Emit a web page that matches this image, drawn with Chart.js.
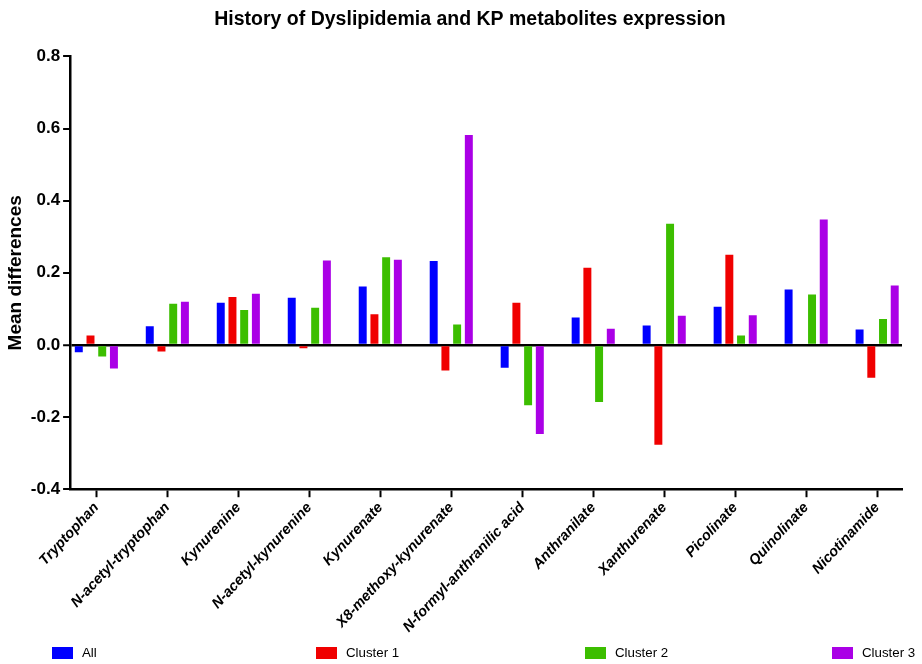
<!DOCTYPE html>
<html>
<head>
<meta charset="utf-8">
<script src="https://cdn.jsdelivr.net/npm/chart.js@4/dist/chart.umd.min.js"></script>
<style>
  html, body { margin: 0; padding: 0; background: #fff; }
  #wrap { position: relative; width: 922px; height: 664px; }
  #legend {
    position: absolute; left: 52px; top: 645px;
    display: grid; grid-template-columns: 264px 269px 247px auto;
    font-family: "Liberation Sans", Arial, sans-serif; font-size: 13.3px; color: #000;
  }
  #legend .item { display: flex; align-items: center; }
  #legend .box { width: 21px; height: 12px; margin-right: 9px; }
</style>
</head>
<body>
<div id="wrap">
  <canvas id="kpChart" width="922" height="664"></canvas>
  <div id="legend"></div>
</div>
<script>
// metabolites on the x axis
const metabolites = [
  "Tryptophan", "N-acetyl-tryptophan", "Kynurenine", "N-acetyl-kynurenine",
  "Kynurenate", "X8-methoxy-kynurenate", "N-formyl-anthranilic acid",
  "Anthranilate", "Xanthurenate", "Picolinate", "Quinolinate", "Nicotinamide"
];

// mean differences per group
const allValues = [-0.02, 0.052, 0.117, 0.131, 0.162, 0.233, -0.063, 0.076, 0.054, 0.106, 0.154, 0.043];
const cluster1Values = [0.026, -0.018, 0.133, -0.009, 0.085, -0.071, 0.117, 0.214, -0.277, 0.25, 0, -0.091];
const cluster2Values = [-0.032, 0.114, 0.097, 0.103, 0.243, 0.057, -0.167, -0.158, 0.336, 0.026, 0.14, 0.072];
const cluster3Values = [-0.065, 0.12, 0.142, 0.234, 0.236, 0.582, -0.247, 0.045, 0.081, 0.082, 0.348, 0.165];

const seriesNames = ["All", "Cluster 1", "Cluster 2", "Cluster 3"];
const seriesColors = ["#0000ff", "#f00000", "#3cbe00", "#aa00e6"];

const yTicks = [-0.4, -0.2, 0.0, 0.2, 0.4, 0.6, 0.8];

const font = "'Liberation Sans', Arial, sans-serif";

// x is numeric (metabolite index) so the groups can sit a bit in from the y axis
const datasets = [allValues, cluster1Values, cluster2Values, cluster3Values].map((values, i) => ({
  label: seriesNames[i],
  data: values.map((v, idx) => ({ x: idx, y: v })),
  backgroundColor: seriesColors[i],
  borderWidth: 0,
  categoryPercentage: 0.66,
  barPercentage: 0.68
}));

// nudge the title so it sits a little right of the canvas centre
const titleShift = {
  id: "titleShift",
  afterLayout(chart) {
    if (chart.titleBlock) chart.titleBlock.left += 37;
  }
};

const chart = new Chart(document.getElementById("kpChart"), {
  type: "bar",
  data: { datasets },
  plugins: [titleShift],
  options: {
    responsive: false,
    animation: false,
    layout: { padding: { left: 1, right: 20, top: 4, bottom: 26 } },
    plugins: {
      legend: { display: false },
      tooltip: { enabled: false },
      title: {
        display: true,
        text: "History of Dyslipidemia and KP metabolites expression",
        color: "#000",
        font: { family: font, size: 19.5, weight: "bold" },
        padding: { top: 4, bottom: 25 }
      }
    },
    scales: {
      x: {
        type: "linear",
        offset: false,
        min: -0.37,
        max: 11.35,
        afterBuildTicks: axis => { axis.ticks = metabolites.map((m, i) => ({ value: i })); },
        grid: { display: true, offset: false, color: "transparent", tickColor: "#000", tickLength: 8, tickWidth: 2 },
        border: { display: true, color: "#000", width: 2.5 },
        ticks: {
          color: "#000",
          autoSkip: false,
          minRotation: 47,
          maxRotation: 47,
          padding: 2,
          font: { family: font, size: 14.5, weight: "bold", style: "italic" },
          callback: v => metabolites[v]
        }
      },
      y: {
        min: -0.4,
        max: 0.8,
        afterBuildTicks: axis => { axis.ticks = yTicks.map(v => ({ value: v })); },
        grid: {
          color: ctx => (ctx.tick && ctx.tick.value === 0 ? "#000" : "transparent"),
          lineWidth: ctx => (ctx.tick && ctx.tick.value === 0 ? 2.5 : 0),
          tickColor: "#000",
          tickLength: 7,
          tickWidth: 2
        },
        border: { display: true, color: "#000", width: 2.5 },
        ticks: {
          color: "#000",
          padding: 3,
          font: { family: font, size: 17, weight: "bold" },
          callback: v => Number(v).toFixed(1)
        },
        title: {
          display: true,
          text: "Mean differences",
          color: "#000",
          font: { family: font, size: 19, weight: "bold" },
          padding: { top: 3, bottom: 1 }
        }
      }
    }
  }
});

// legend spread across the bottom, built from the chart's datasets
const legendEl = document.getElementById("legend");
chart.data.datasets.forEach(ds => {
  const item = document.createElement("div");
  item.className = "item";
  const box = document.createElement("span");
  box.className = "box";
  box.style.background = ds.backgroundColor;
  const text = document.createElement("span");
  text.textContent = ds.label;
  item.appendChild(box);
  item.appendChild(text);
  legendEl.appendChild(item);
});
</script>
</body>
</html>
